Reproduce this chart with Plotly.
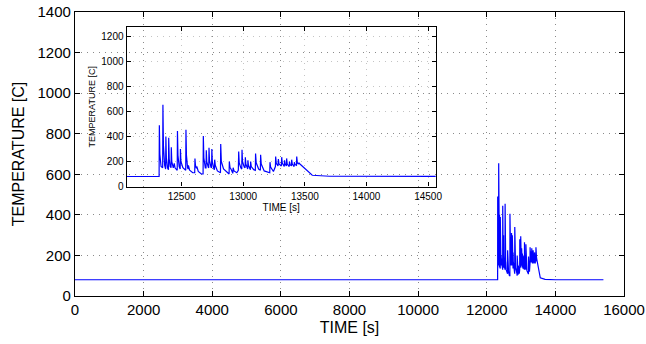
import plotly.graph_objects as go

# ---- data ----
TIME_S = [0, 12300, 12317, 12319, 12323, 12333, 12346, 12348, 12352, 12362, 12370, 12372, 12376, 12385,
          12393, 12395, 12399, 12407, 12414, 12416, 12420, 12432, 12440, 12446, 12464, 12466, 12470, 12480,
          12488, 12490, 12494, 12510, 12533, 12535, 12539, 12548, 12553, 12555, 12565, 12590, 12606, 12608,
          12612, 12620, 12623, 12635, 12660, 12674, 12676, 12680, 12692, 12698, 12700, 12704, 12716, 12720,
          12722, 12726, 12738, 12743, 12745, 12749, 12762, 12766, 12768, 12773, 12790, 12815, 12817, 12822,
          12840, 12880, 12885, 12887, 12892, 12905, 12915, 12918, 12925, 12948, 12960, 12963, 12967, 12980,
          12988, 12990, 12994, 13008, 13015, 13017, 13021, 13034, 13036, 13038, 13042, 13055, 13058, 13060,
          13065, 13085, 13098, 13100, 13105, 13125, 13139, 13141, 13146, 13170, 13210, 13215, 13217, 13222,
          13245, 13261, 13263, 13268, 13282, 13285, 13290, 13309, 13312, 13317, 13333, 13335, 13340, 13350,
          13352, 13357, 13373, 13375, 13380, 13391, 13393, 13398, 13413, 13415, 13420, 13432, 13434, 13439,
          13448, 13450, 13460, 13560, 13700, 14000, 15400]
TEMP_C = [80, 80, 80, 490, 260, 160, 150, 655, 330, 170, 140, 400, 230, 150,
          135, 390, 220, 160, 150, 315, 200, 150, 185, 150, 130, 445, 250, 160,
          140, 300, 200, 150, 130, 455, 250, 150, 140, 170, 130, 110, 110, 225,
          170, 145, 160, 120, 100, 100, 405, 230, 150, 150, 290, 200, 155, 150,
          310, 210, 155, 150, 300, 200, 140, 135, 215, 170, 125, 110, 340, 200,
          140, 110, 100, 200, 155, 130, 105, 150, 125, 110, 130, 280, 190, 150,
          140, 295, 200, 155, 150, 235, 180, 145, 140, 210, 170, 140, 135, 200,
          160, 135, 130, 265, 190, 140, 130, 255, 180, 125, 110, 110, 195, 155,
          120, 160, 240, 185, 165, 220, 180, 165, 235, 185, 160, 210, 180, 165,
          225, 180, 160, 200, 175, 165, 215, 180, 160, 195, 175, 170, 240, 190,
          180, 190, 180, 90, 82, 80, 80]

MAIN_X_TICKS = [0, 2000, 4000, 6000, 8000, 10000, 12000, 14000, 16000]
MAIN_Y_TICKS = [0, 200, 400, 600, 800, 1000, 1200, 1400]
INSET_X_TICKS = [12500, 13000, 13500, 14000, 14500]
INSET_Y_TICKS = [0, 200, 400, 600, 800, 1000, 1200]

FONT = "Liberation Sans, Arial, sans-serif"
W, H = 646, 344
L, R, T, B = 75, 22, 12, 48
pw, ph = W - L - R, H - T - B

def px_x(p):
    return (p - L) / pw

def px_y(p):
    return (H - B - p) / ph

fig = go.Figure()
fig.add_trace(go.Scatter(x=TIME_S, y=TEMP_C, mode="lines",
                         line=dict(color="#0000ff", width=1.2), xaxis="x", yaxis="y",
                         showlegend=False, hoverinfo="skip"))
fig.add_trace(go.Scatter(x=TIME_S, y=TEMP_C, mode="lines",
                         line=dict(color="#0000ff", width=1.2), xaxis="x2", yaxis="y2",
                         showlegend=False, hoverinfo="skip"))

main_axis = dict(showline=True, linecolor="black", linewidth=1.3, mirror="ticks",
                 ticks="inside", ticklen=5, tickcolor="black", tickformat="d",
                 showgrid=True, gridcolor="#8a8a8a", griddash="1px,5px", gridwidth=1,
                 zeroline=False, automargin=False,
                 tickfont=dict(family=FONT, size=15, color="black"))
inset_axis = dict(showline=True, linecolor="black", linewidth=1.3, mirror="ticks",
                  ticks="inside", ticklen=4, tickcolor="black", tickformat="d",
                  showgrid=True, gridcolor="#c4c4c4", griddash="1px,5px", gridwidth=1,
                  zeroline=False, automargin=False,
                  tickfont=dict(family=FONT, size=10, color="black"))

fig.update_layout(
    width=W, height=H,
    margin=dict(l=L, r=R, t=T, b=B),
    paper_bgcolor="white", plot_bgcolor="rgba(0,0,0,0)",
    xaxis=dict(main_axis, range=[0, 16000], tickvals=MAIN_X_TICKS,
               title=dict(text="TIME [s]", font=dict(family=FONT, size=16, color="black"), standoff=4)),
    yaxis=dict(main_axis, range=[0, 1400], tickvals=MAIN_Y_TICKS,
               title=dict(text="TEMPERATURE [C]", font=dict(family=FONT, size=16, color="black"), standoff=8)),
    xaxis2=dict(inset_axis, domain=[px_x(126.7), px_x(435.7)], anchor="y2",
                range=[12054, 14562], tickvals=INSET_X_TICKS,
                title=dict(text="TIME [s]", font=dict(family=FONT, size=10, color="black"), standoff=0)),
    yaxis2=dict(inset_axis, domain=[px_y(186.5), px_y(27)], anchor="x2",
                range=[0, 1278], tickvals=INSET_Y_TICKS,
                title=dict(text="TEMPERATURE [C]", font=dict(family=FONT, size=9, color="black"), standoff=4)),
)

fig.write_html("out.html")
